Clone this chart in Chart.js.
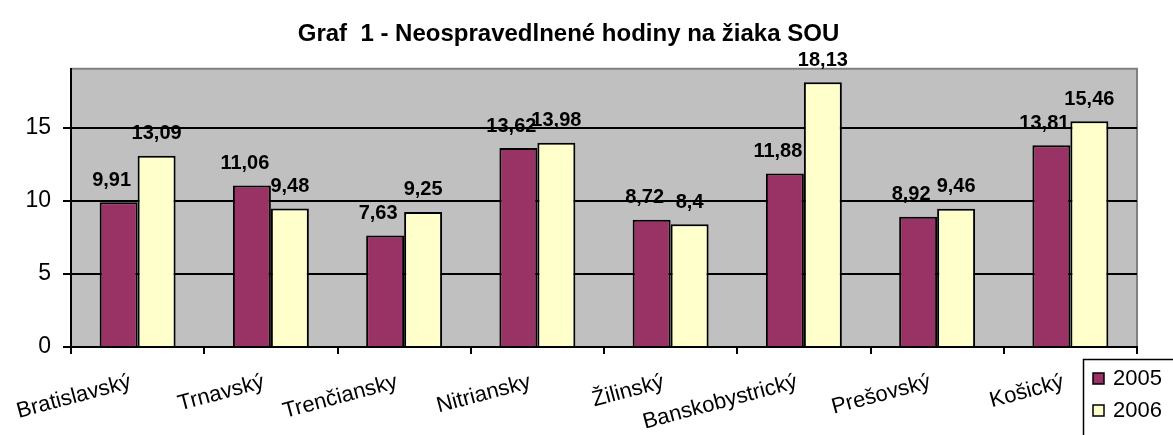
<!DOCTYPE html>
<html>
<head>
<meta charset="utf-8">
<script src="https://cdn.jsdelivr.net/npm/chart.js@4.4.0/dist/chart.umd.min.js"></script>
<style>
  html, body { margin: 0; padding: 0; background: #fff; }
  #wrap { width: 1173px; height: 435px; }
</style>
</head>
<body>
<div id="wrap"><canvas id="graf"></canvas></div>
<script>
// udaje z grafu
const kraje = ['Bratislavský', 'Trnavský', 'Trenčiansky', 'Nitriansky', 'Žilinský', 'Banskobystrický', 'Prešovský', 'Košický'];
const roky = ['2005', '2006'];
const hodiny2005 = [9.91, 11.06, 7.63, 13.62, 8.72, 11.88, 8.92, 13.81];
const hodiny2006 = [13.09, 9.48, 9.25, 13.98, 8.4, 18.13, 9.46, 15.46];
const yTicky = [0, 5, 10, 15];

const pismo = 'Arial, "Liberation Sans", sans-serif';

// sive pozadie plochy grafu
const pozadie = {
  id: 'pozadie',
  beforeDraw(chart) {
    const { ctx, chartArea: a } = chart;
    ctx.save();
    ctx.fillStyle = '#C0C0C0';
    ctx.fillRect(a.left, a.top, a.right - a.left, a.bottom - a.top);
    ctx.strokeStyle = '#808080';
    ctx.lineWidth = 2;
    ctx.beginPath();
    ctx.moveTo(a.left, a.top);
    ctx.lineTo(a.right, a.top);
    ctx.lineTo(a.right, a.bottom);
    ctx.stroke();
    ctx.restore();
  }
};

// hodnoty nad stlpcami
const hodnoty = {
  id: 'hodnoty',
  afterDatasetsDraw(chart) {
    const { ctx } = chart;
    ctx.save();
    ctx.font = 'bold 20px ' + pismo;
    ctx.fillStyle = '#000';
    ctx.textAlign = 'center';
    ctx.textBaseline = 'bottom';
    chart.data.datasets.forEach((ds, i) => {
      const posun = i === 0 ? -7 : 0;
      chart.getDatasetMeta(i).data.forEach((bar, j) => {
        const txt = String(ds.data[j]).replace('.', ',');
        ctx.fillText(txt, bar.x + posun, bar.y - 12);
      });
    });
    ctx.restore();
  }
};

// legenda v pravom dolnom rohu
const legenda = {
  id: 'legenda',
  afterDraw(chart) {
    const { ctx } = chart;
    ctx.save();
    ctx.strokeStyle = '#000';
    ctx.lineWidth = 1.5;
    ctx.fillStyle = '#fff';
    ctx.fillRect(1083, 359, 100, 90);
    ctx.strokeRect(1083.5, 359.5, 100, 90);
    ctx.font = '22px ' + pismo;
    ctx.textBaseline = 'middle';
    chart.data.datasets.forEach((ds, i) => {
      const y = 373 + i * 32;
      ctx.fillStyle = ds.backgroundColor;
      ctx.fillRect(1093, y, 11, 11);
      ctx.strokeRect(1093, y, 11, 11);
      ctx.fillStyle = '#000';
      ctx.fillText(ds.label, 1113, y + 6);
    });
    ctx.restore();
  }
};

new Chart(document.getElementById('graf'), {
  type: 'bar',
  data: {
    labels: kraje,
    datasets: [
      { label: roky[0], data: hodiny2005, backgroundColor: '#993366', borderColor: '#000', borderWidth: 2 },
      { label: roky[1], data: hodiny2006, backgroundColor: '#FFFFCC', borderColor: '#000', borderWidth: 2 }
    ]
  },
  options: {
    responsive: true,
    maintainAspectRatio: false,
    animation: false,
    datasets: { bar: { categoryPercentage: 0.57, barPercentage: 1 } },
    layout: { padding: { left: 0, right: 36, top: 0, bottom: 0 } },
    plugins: {
      legend: { display: false },
      tooltip: { enabled: false },
      title: {
        display: true,
        text: 'Graf  1 - Neospravedlnené hodiny na žiaka SOU',
        color: '#000',
        font: { family: pismo, size: 24, weight: 'bold', lineHeight: 1.2 },
        padding: { top: 20, bottom: 20 }
      }
    },
    scales: {
      x: {
        grid: { offset: true, drawOnChartArea: false, drawTicks: true, tickLength: 7, color: '#000', lineWidth: 2 },
        border: { color: '#000', width: 2 },
        ticks: {
          autoSkip: false,
          minRotation: 15,
          maxRotation: 15,
          padding: 15,
          labelOffset: -7,
          color: '#000',
          font: { family: pismo, size: 22 }
        },
        afterFit(scale) { scale.height = 88; }
      },
      y: {
        min: 0,
        max: 19.05,
        grid: { color: '#000', lineWidth: 2, tickLength: 8 },
        border: { color: '#000', width: 2 },
        ticks: {
          stepSize: 5,
          padding: 12,
          color: '#000',
          font: { family: pismo, size: 23 }
        },
        afterBuildTicks(scale) {
          scale.ticks = yTicky.map(v => ({ value: v }));
        },
        afterFit(scale) { scale.width = 71; }
      }
    }
  },
  plugins: [pozadie, hodnoty, legenda]
});
</script>
</body>
</html>
